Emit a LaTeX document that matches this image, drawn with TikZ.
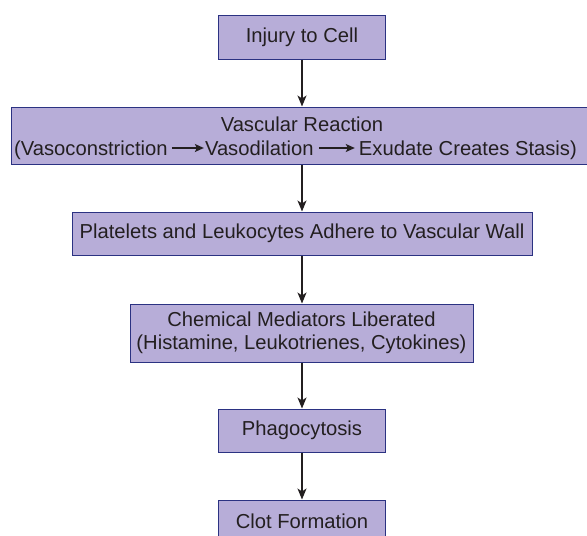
\documentclass[tikz,border=0pt]{standalone}
\usepackage{fontspec}
\setmainfont{Liberation Sans}
\usetikzlibrary{arrows.meta}
\definecolor{boxfill}{RGB}{183,173,216}
\definecolor{boxline}{RGB}{43,50,130}
\definecolor{txt}{RGB}{35,31,32}
\begin{document}
\begin{tikzpicture}[x=1pt,y=-1pt,
  flowbox/.style={draw=boxline,fill=boxfill,line width=1pt,text=txt,align=center,
    font=\fontsize{20.2}{23}\selectfont,inner sep=0pt},
  linetext/.style={text=txt,font=\fontsize{20.2}{23}\selectfont,inner sep=0pt,anchor=base west},
  flowarrow/.style={draw=txt,line width=1.4pt,-{Stealth[length=11pt,width=9pt,inset=3pt]}},
  inarrow/.style={draw=txt,line width=1.2pt,-{Stealth[length=9pt,width=8pt,inset=2pt]}}]
\useasboundingbox (0,0) rectangle (587,536);
\node[flowbox,minimum width=167pt,minimum height=44pt] (b1) at (302,37) {Injury to Cell};
\node[flowbox,minimum width=576pt,minimum height=57pt] (b2) at (299,135.5) {};
\node[linetext,anchor=base] (l1) at (302,131) {Vascular Reaction};
\node[linetext] (t1) at (14,155) {(Vasoconstriction};
\coordinate (a1s) at ([xshift=4pt]t1.base east);
\coordinate (a1e) at ([xshift=32pt]a1s);
\node[linetext] (t2) at ([xshift=1pt]a1e) {Vasodilation};
\coordinate (a2s) at ([xshift=5pt]t2.base east);
\coordinate (a2e) at ([xshift=36pt]a2s);
\node[linetext] (t3) at ([xshift=4pt]a2e) {Exudate Creates Stasis)};
\draw[inarrow] ([yshift=7pt]a1s) -- ([yshift=7pt]a1e);
\draw[inarrow] ([yshift=7pt]a2s) -- ([yshift=7pt]a2e);
\node[flowbox,minimum width=460pt,minimum height=43pt] (b3) at (302,233.5) {Platelets and Leukocytes Adhere to Vascular Wall};
\node[flowbox,minimum width=343pt,minimum height=58pt] (b4) at (301.5,333) {Chemical Mediators Liberated\\(Histamine, Leukotrienes, Cytokines)};
\node[flowbox,minimum width=167pt,minimum height=43pt] (b5) at (302,430.5) {Phagocytosis};
\node[flowbox,minimum width=167pt,minimum height=43pt] (b6) at (302,521.5) {Clot Formation};
\draw[flowarrow] (b1.south) -- (b1.south |- b2.north);
\draw[flowarrow] (b1.south |- b2.south) -- (b3.north);
\draw[flowarrow] (b3.south) -- (b3.south |- b4.north);
\draw[flowarrow] (b3.south |- b4.south) -- (b5.north);
\draw[flowarrow] (b5.south) -- (b6.north);
\end{tikzpicture}
\end{document}
